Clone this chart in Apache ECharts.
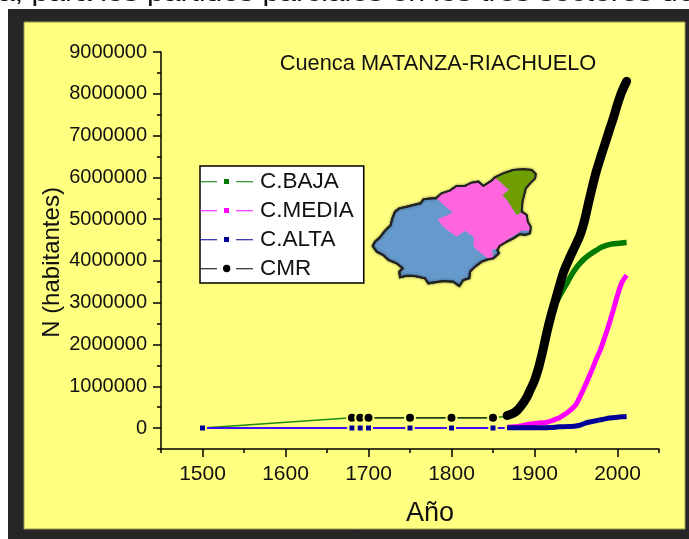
<!DOCTYPE html>
<html><head><meta charset="utf-8">
<style>html,body{margin:0;padding:0;background:#fff}#c{width:689px;height:539px}</style>
<script src="https://cdn.jsdelivr.net/npm/echarts@6/dist/echarts.min.js"></script>
</head><body><div id="c"></div>
<script>
const seriesNames = ['C.BAJA','C.MEDIA','C.ALTA','CMR'];
const xMajor = [1500,1600,1700,1800,1900,2000];
const yMajor = [0,1000000,2000000,3000000,4000000,5000000,6000000,7000000,8000000,9000000];
const earlyYears = [1500,1680,1690,1700,1750,1800,1850,1864];
const earlyBaja  = [0,250000,250000,250000,250000,250000,250000,280000];
const earlyMedia = [0,0,0,0,0,0,0,5000];
const earlyAlta  = [0,0,0,0,0,0,0,5000];
const earlyCmrYears = [1680,1690,1700,1750,1800,1850];
const earlyCmr   = [250000,250000,250000,250000,250000,250000];
const modernYears = [1867,1875,1880,1885,1890,1895,1900,1905,1910,1915,1920,1925,1930,1935,1940,1945,1950,1955,1960,1965,1970,1975,1980,1985,1990,1995,2000,2005,2011];
const modernBaja  = [300000,360000,440000,560000,710000,920000,1140000,1450000,1850000,2280000,2650000,2950000,3150000,3330000,3500000,3680000,3830000,3950000,4050000,4130000,4200000,4260000,4320000,4360000,4390000,4410000,4420000,4430000,4440000];
const modernMedia = [20000,30000,40000,60000,80000,100000,110000,125000,130000,140000,170000,210000,250000,310000,380000,460000,570000,760000,970000,1200000,1430000,1680000,1910000,2200000,2500000,2830000,3180000,3470000,3660000];
const modernAlta  = [10000,10000,10000,10000,10000,10000,10000,10000,10000,10000,15000,20000,30000,30000,40000,40000,50000,70000,110000,140000,160000,180000,200000,220000,240000,250000,260000,270000,280000];
const modernCmr   = [300000,360000,440000,560000,710000,920000,1140000,1450000,1850000,2300000,2700000,3050000,3400000,3730000,3970000,4190000,4400000,4620000,4950000,5380000,5800000,6180000,6500000,6810000,7120000,7420000,7750000,8040000,8300000];

const zip=(a,b)=>a.map((v,i)=>[v,b[i]]);
const noMarkAtEnd=(pts)=>pts.map((p,i)=>i===pts.length-1?{value:p,symbol:'none'}:p);
const YEL='#ffff80';
const FF='"Liberation Sans", Arial, sans-serif';
const guard='M0 0L.01 0L0 .01ZM53 12L52.99 12L53 11.99Z';
const lines='M0 5.7H17V6.7H0ZM36 5.7H53V6.7H36Z';
const sq=lines+'M24 3.5H29V8.5H24Z'+guard;
const ci=lines+'M23 6A3.7 3.7 0 1 0 30.4 6A3.7 3.7 0 1 0 23 6Z'+guard;

const outline=[[38,258],[45,245],[60,232],[75,212],[92,196],[97,175],[105,155],[118,145],[140,140],[160,135],[182,130],[190,118],[215,115],[228,115],[245,100],[270,92],[290,78],[315,78],[335,68],[355,65],[370,78],[395,62],[405,52],[430,40],[460,30],[490,28],[515,30],[527,42],[525,55],[510,70],[497,85],[492,105],[487,125],[485,155],[500,165],[503,185],[512,200],[510,220],[495,225],[480,222],[460,235],[440,245],[418,258],[412,270],[417,280],[400,295],[385,298],[365,305],[345,320],[330,335],[328,355],[310,360],[298,378],[280,365],[250,363],[205,370],[195,355],[165,348],[140,347],[120,352],[118,335],[128,325],[110,310],[85,300],[70,285],[50,275]];
const greenPart=[[405,52],[430,40],[460,30],[490,28],[515,30],[527,42],[525,55],[510,70],[497,85],[492,105],[487,125],[485,155],[470,165],[445,125],[428,105],[447,90]];
const pinkPart=[[228,115],[245,100],[270,92],[290,78],[315,78],[335,68],[355,65],[370,78],[395,62],[405,52],[447,90],[428,105],[445,125],[470,165],[485,155],[500,165],[503,185],[512,200],[510,212],[485,212],[465,225],[440,240],[415,265],[395,270],[400,292],[385,296],[345,265],[340,255],[342,232],[315,212],[290,230],[255,205],[245,195],[233,178],[278,158]];

function thin(name,data,lineColor,markColor,size,border,symbol){
  return {name,type:'line',data,symbol,symbolSize:size,showAllSymbol:true,silent:true,animation:false,
    lineStyle:{color:lineColor,width:1.5},itemStyle:{color:markColor,borderColor:YEL,borderWidth:border}};
}
function thick(name,data,color,width,cap){
  return {name,type:'line',data,symbol:'none',silent:true,animation:false,smooth:0.3,
    lineStyle:{color,width,cap:cap,join:'round'},itemStyle:{color}};
}
const legendStyle=c=>({color:c,borderWidth:0,borderColor:c});
const chart=echarts.init(document.getElementById('c'),null,{renderer:'canvas'});
const axisLine={show:true,onZero:false,lineStyle:{color:'#000',width:1.5}};
chart.setOption({
  animation:false,
  backgroundColor:'#fff',
  textStyle:{fontFamily:FF},
  title:{text:'Cuenca MATANZA-RIACHUELO',left:433,top:48,textAlign:'center',
    textStyle:{fontFamily:FF,fontSize:21.8,fontWeight:'normal',color:'#111'}},
  grid:{left:161,top:52,width:498,height:397,containLabel:false},
  legend:{left:200,top:166,orient:'vertical',selectedMode:false,
    backgroundColor:'#fff',borderColor:'#000',borderWidth:1.5,borderRadius:0,
    padding:[4,10,3,0],itemWidth:53,itemHeight:12,itemGap:6,
    textStyle:{fontFamily:FF,fontSize:22.5,color:'#111',padding:[0,0,0,2]},
    data:[
      {name:seriesNames[0],icon:'path://'+sq,itemStyle:legendStyle('#007a00')},
      {name:seriesNames[1],icon:'path://'+sq,itemStyle:legendStyle('#ff00ff')},
      {name:seriesNames[2],icon:'path://'+sq,itemStyle:legendStyle('#000099')},
      {name:seriesNames[3],icon:'path://'+ci,itemStyle:legendStyle('#000')}
    ]},
  xAxis:[
    {type:'value',min:1450,max:2050,position:'bottom',splitLine:{show:false},axisLine,
     name:'Año',nameLocation:'middle',nameGap:51,nameMoveOverlap:false,nameTextStyle:{fontFamily:FF,fontSize:27,color:'#111',padding:[0,0,0,40]},
     axisTick:{show:true,length:8,customValues:xMajor,lineStyle:{color:'#000',width:1.5}},
     axisLabel:{customValues:xMajor,margin:15,fontFamily:FF,fontSize:21,color:'#111',formatter:v=>String(v)}},
    {type:'value',min:1450,max:2050,interval:50,position:'bottom',splitLine:{show:false},axisLine:{show:false,onZero:false},
     axisTick:{show:true,length:4,lineStyle:{color:'#000',width:1.5}},axisLabel:{show:false}}
  ],
  yAxis:[
    {type:'value',min:-500000,max:9000000,position:'left',splitLine:{show:false},axisLine,
     name:'N (habitantes)',nameLocation:'middle',nameGap:97,nameMoveOverlap:false,nameRotate:90,nameTextStyle:{fontFamily:FF,fontSize:24,color:'#111',padding:[0,24,0,0]},
     axisTick:{show:true,length:8,customValues:yMajor,lineStyle:{color:'#000',width:1.5}},
     axisLabel:{customValues:yMajor,margin:14,fontFamily:FF,fontSize:20,color:'#111',formatter:v=>String(v)}},
    {type:'value',min:-500000,max:9000000,interval:500000,position:'left',splitLine:{show:false},axisLine:{show:false,onZero:false},
     axisTick:{show:true,length:4,lineStyle:{color:'#000',width:1.5}},axisLabel:{show:false}}
  ],
  series:[
    thin(seriesNames[0],noMarkAtEnd(zip(earlyYears,earlyBaja)),'#1f8c10','#007a00',7,2,'rect'),
    thin(seriesNames[1],noMarkAtEnd(zip(earlyYears,earlyMedia)),'#ff00ff','#ff00ff',7,2,'rect'),
    thin(seriesNames[2],noMarkAtEnd(zip(earlyYears,earlyAlta)),'#0000ff','#000099',7,2,'rect'),
    thin(seriesNames[3],zip(earlyCmrYears,earlyCmr),'#1a3a10','#000',10,2,'circle'),
    thick(seriesNames[0],zip(modernYears,modernBaja),'#007a00',5.5,'butt'),
    thick(seriesNames[1],zip(modernYears,modernMedia),'#ff00ff',5,'butt'),
    thick(seriesNames[2],zip(modernYears,modernAlta),'#000099',5,'butt'),
    thick(seriesNames[3],zip(modernYears,modernCmr),'#000',9,'round')
  ],
  graphic:{elements:[
    {type:'text',z:-10,x:-2,y:-18,scaleX:1.255,style:{text:'a, para los partidos parciales en los tres sectores de',font:'24px '+FF,fill:'#111'}},
    {type:'rect',z:-9,shape:{x:8,y:9,width:681,height:530},style:{fill:'#262626'}},
    {type:'rect',z:-8,shape:{x:24,y:22,width:661,height:507},style:{fill:YEL,stroke:'#9a9a50',lineWidth:1}},
    {type:'group',z:3,x:360,y:160,scaleX:1/3,scaleY:1/3,children:[
      {type:'polygon',z:3,shape:{points:outline},style:{fill:'#6699cc',stroke:'#222',lineWidth:6,shadowBlur:3,shadowColor:'rgba(0,0,0,.45)'}},
      {type:'polygon',z:4,shape:{points:pinkPart},style:{fill:'#ff66dd'}},
      {type:'polygon',z:4,shape:{points:greenPart},style:{fill:'#6e9e00'}},
      {type:'polygon',z:5,shape:{points:outline},style:{fill:'none',stroke:'#222',lineWidth:6}}
    ]}
  ]}
});
</script></body></html>
